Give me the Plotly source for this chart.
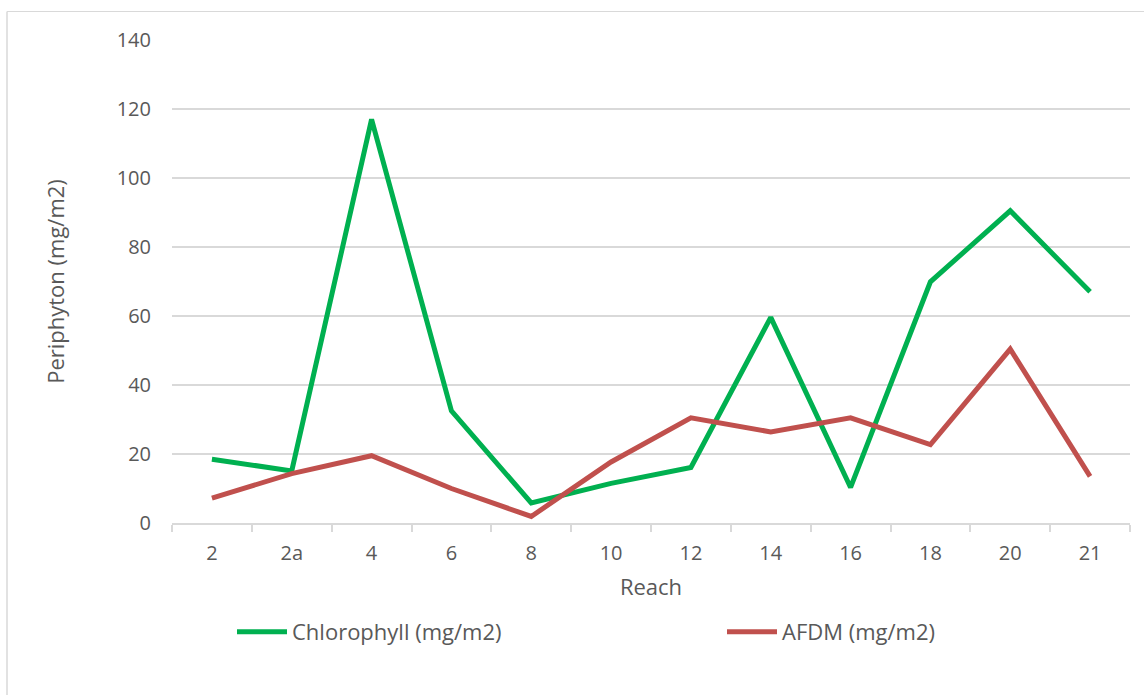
import plotly.graph_objects as go

# Reach identifiers along the stream
reaches = ["2", "2a", "4", "6", "8", "10", "12", "14", "16", "18", "20", "21"]

# Periphyton measurements per reach (mg/m2)
chlorophyll = [18.5, 15.1, 117.0, 32.5, 5.8, 11.5, 16.1, 59.6, 10.3, 69.9, 90.5, 67.0]
afdm = [7.2, 14.3, 19.5, 10.0, 1.9, 17.7, 30.5, 26.4, 30.5, 22.7, 50.4, 13.5]

W, H = 1144, 695
ML, MR, MT, MB = 172, 14, 40, 172
FONT = "Open Sans"
FS_TICK = 20
FS_TEXT = 22
GREY_TXT = "#595959"
GRID = "#D9D9D9"

fig = go.Figure()
fig.add_trace(go.Scatter(
    x=reaches, y=chlorophyll, mode="lines", name="Chlorophyll (mg/m2)",
    line=dict(color="#00B050", width=5), legend="legend",
))
fig.add_trace(go.Scatter(
    x=reaches, y=afdm, mode="lines", name="AFDM (mg/m2)",
    line=dict(color="#C0504D", width=5), legend="legend2",
))

pw = W - ML - MR
ph = H - MT - MB


def px_to_paper_x(px):
    return (px - ML) / pw


def px_to_paper_y(py):
    return (H - MB - py) / ph


# light frame around the chart area
fig.add_shape(type="line", xref="paper", yref="paper",
              x0=px_to_paper_x(7), x1=px_to_paper_x(1150),
              y0=px_to_paper_y(11.5), y1=px_to_paper_y(11.5),
              line=dict(color="#D9D9D9", width=1))
fig.add_shape(type="line", xref="paper", yref="paper",
              x0=px_to_paper_x(7), x1=px_to_paper_x(7),
              y0=px_to_paper_y(11.5), y1=px_to_paper_y(700),
              line=dict(color="#D9D9D9", width=1.5))

legend_style = dict(
    orientation="h", xanchor="left", yanchor="middle",
    y=px_to_paper_y(632),
    font=dict(family=FONT, size=FS_TEXT, color=GREY_TXT),
    itemwidth=50, bgcolor="rgba(0,0,0,0)",
)

fig.update_layout(
    width=W, height=H,
    margin=dict(l=ML, r=MR, t=MT, b=MB),
    paper_bgcolor="white", plot_bgcolor="white",
    font=dict(family=FONT, size=FS_TICK, color=GREY_TXT),
    showlegend=True,
    legend=dict(x=px_to_paper_x(232), **legend_style),
    legend2=dict(x=px_to_paper_x(722), **legend_style),
    xaxis=dict(
        type="category", title=dict(text="Reach", standoff=15,
                                    font=dict(size=FS_TEXT, color=GREY_TXT)),
        showline=True, linecolor=GRID, linewidth=1.5,
        ticks="outside", tickson="boundaries", ticklen=7, tickcolor=GRID,
        tickwidth=1.5, showgrid=False, ticklabelstandoff=11,
        tickfont=dict(size=FS_TICK),
        range=[-0.5, 11.5], fixedrange=True,
    ),
    yaxis=dict(
        title=dict(text="Periphyton (mg/m2)", standoff=45,
                   font=dict(size=FS_TEXT, color=GREY_TXT)),
        range=[0, 140], dtick=20, showgrid=True, gridcolor=GRID, gridwidth=1.5,
        zeroline=False, showline=False, ticks="", ticklabelstandoff=20,
        tickfont=dict(size=FS_TICK),
        fixedrange=True,
    ),
)

fig.write_html("out.html")
